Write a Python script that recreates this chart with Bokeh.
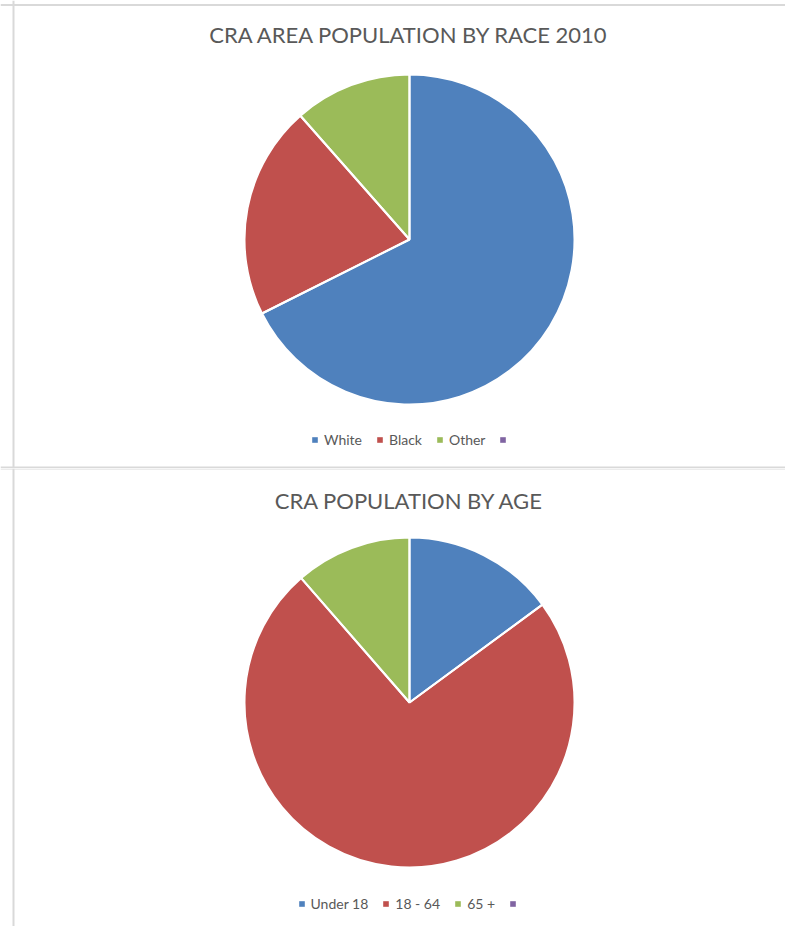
import numpy as np
from bokeh.plotting import figure
from bokeh.models import (ColumnDataSource, Range1d, Legend, LegendItem, Label, Span,
                          CDSView, BooleanFilter)
from bokeh.layouts import column
from bokeh.embed import file_html
from bokeh.resources import INLINE

# ---- data ----
race_title = "CRA AREA POPULATION BY RACE 2010"
race_labels = ["White", "Black", "Other", ""]
race_values = [67.6, 20.9, 11.5, 0.0]

age_title = "CRA POPULATION BY AGE"
age_labels = ["Under 18", "18 - 64", "65 +", ""]
age_values = [14.9, 73.7, 11.4, 0.0]

colors = ["#4F81BD", "#C0504D", "#9BBB59", "#8064A2"]

TEXT = "#595959"
BORDER = "#D9D9D9"
FONT = "Lato"
W = 785


def pie(title, labels, values, H, cx, cy, R, title_y, leg_x, leg_y):
    vals = np.array(values, dtype=float)
    frac = vals / vals.sum()
    cum = np.concatenate([[0.0], np.cumsum(frac)])
    start = np.pi / 2 - 2 * np.pi * cum[:-1]
    end = np.pi / 2 - 2 * np.pi * cum[1:]
    src = ColumnDataSource(dict(label=labels, value=vals, start=start, end=end,
                                color=colors[:len(labels)]))
    view = CDSView(filter=BooleanFilter(list(vals > 0)))
    p = figure(width=W, height=H, output_backend="svg", toolbar_location=None,
               x_range=Range1d(-cx, W - cx), y_range=Range1d(-(H - cy), cy),
               min_border=0, outline_line_color=None, background_fill_color="white",
               border_fill_color="white")
    p.axis.visible = False
    p.grid.visible = False
    p.wedge(x=0, y=0, radius=R, start_angle="start", end_angle="end",
            direction="clock", fill_color="color", line_color=None,
            source=src, view=view)
    p.wedge(x=0, y=0, radius=R, start_angle="start", end_angle="end",
            direction="clock", fill_color=None, line_color="white", line_width=2,
            source=src, view=view)
    # legend-only renderer (zero radius) so that every category gets a swatch
    lr = p.wedge(x=0, y=0, radius=0, start_angle="start", end_angle="end",
                 direction="clock", fill_color="color", line_color=None, source=src)
    items = [LegendItem(label=lab, renderers=[lr], index=i) for i, lab in enumerate(labels)]
    leg = Legend(items=items, orientation="horizontal", location=(leg_x, leg_y),
                 glyph_width=7, glyph_height=7, label_standoff=6, spacing=14,
                 padding=0, margin=0, border_line_color=None,
                 background_fill_alpha=0, label_text_font=FONT,
                 label_text_font_size="14px", label_text_color=TEXT)
    p.add_layout(leg, "center")
    p.add_layout(Label(x=0, y=cy - title_y, text=title, text_align="center",
                       text_baseline="middle", text_font=FONT,
                       text_font_size="22px", text_color=TEXT))
    # decorative left border
    p.add_layout(Span(location=13, location_units="screen", dimension="height",
                      line_color=BORDER, line_width=2))
    return p


H1, H2 = 468, 458
p1 = pie(race_title, race_labels, race_values, H1, 409, 239, 165, 34, 311, 20)
p2 = pie(age_title, age_labels, age_values, H2, 409, 234, 165, 32, 297.5, 14)
# decorative frame lines
p1.add_layout(Span(location=H1 - 4.5, location_units="screen", dimension="width",
                   line_color=BORDER, line_width=2))
p1.add_layout(Span(location=1, location_units="screen", dimension="width",
                   line_color=BORDER, line_width=2))
p2.add_layout(Span(location=H2 - 0.5, location_units="screen", dimension="width",
                   line_color=BORDER, line_width=1))

p = column(p1, p2, spacing=0)
open("out.html", "w").write(file_html(p, INLINE))
